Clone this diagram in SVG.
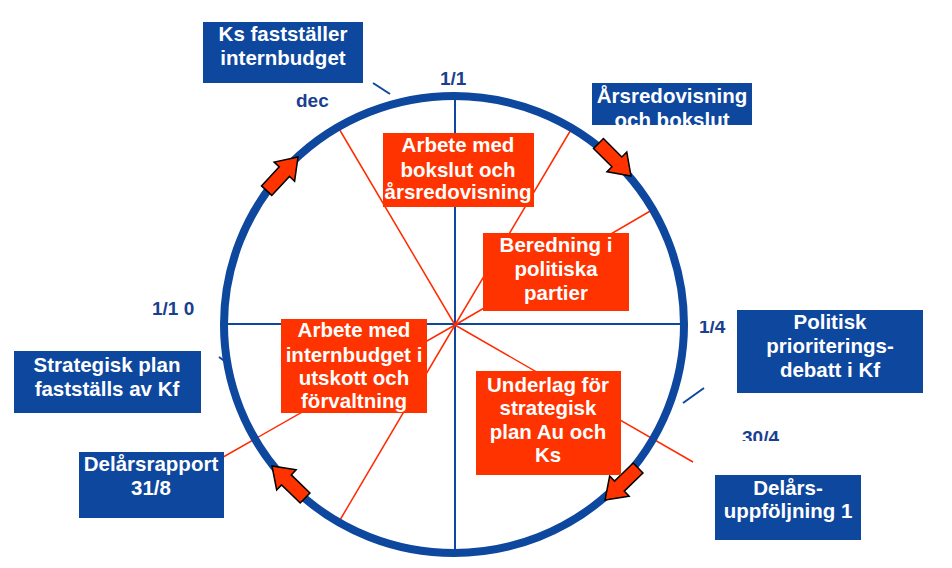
<svg xmlns="http://www.w3.org/2000/svg" width="952" height="568" viewBox="0 0 952 568">
<style>
.bb{fill:#0e479e}
.rb{fill:#ff3300}
.bt{font-family:"Liberation Sans",Arial,sans-serif;font-weight:bold;font-size:20.5px;fill:#ffffff;text-anchor:middle}
.lb{font-family:"Liberation Sans",Arial,sans-serif;font-weight:bold;font-size:19px;fill:#1b3f90}
.rl{stroke:#ff2a00;stroke-width:1.5;fill:none}
.ax{stroke:#0e479e;stroke-width:2;fill:none}
.tk{stroke:#0e479e;stroke-width:2;fill:none}
.ar{fill:#ff3300;stroke:#000;stroke-width:1.5;stroke-linejoin:miter}
</style>
<defs>
<path id="arr" d="M0,0 L-20,-14 L-20,-7 L-46,-7 L-46,7 L-20,7 L-20,14 Z"/>
<clipPath id="c14"><rect x="690" y="321" width="50" height="30"/></clipPath>
<clipPath id="c304"><rect x="735" y="415" width="60" height="26"/></clipPath>
</defs>
<rect width="952" height="568" fill="#ffffff"/>
<g id="connectors">
<line class="ax" x1="455" y1="96" x2="455" y2="553"/>
<line class="ax" x1="224" y1="324" x2="684" y2="324"/>
<line class="rl" x1="455" y1="325" x2="338" y2="127"/>
<line class="rl" x1="455" y1="325" x2="572" y2="128"/>
<line class="rl" x1="455" y1="325" x2="652" y2="210"/>
<line class="rl" x1="455" y1="325" x2="693" y2="462"/>
<line class="rl" x1="455" y1="325" x2="340" y2="520"/>
<line class="rl" x1="455" y1="325" x2="218" y2="460"/>
<line class="tk" x1="373" y1="83" x2="390" y2="94"/>
<line class="tk" x1="219" y1="357" x2="230" y2="365"/>
<line class="tk" x1="683" y1="403" x2="704" y2="388"/>
</g>
<g id="ring">
<ellipse cx="454" cy="324.5" rx="230" ry="228.5" fill="none" stroke="#0e479e" stroke-width="8"/>
</g>
<g id="arrows">
<use href="#arr" class="ar" transform="translate(298,157) rotate(-47)"/>
<use href="#arr" class="ar" transform="translate(631,176) rotate(45)"/>
<use href="#arr" class="ar" transform="translate(605,500) rotate(136)"/>
<use href="#arr" class="ar" transform="translate(272,466) rotate(-136)"/>
</g>
<g id="labels">
<text class="lb" x="296" y="107">dec</text>
<text class="lb" x="440" y="85">1/1</text>
<text class="lb" x="152" y="315">1/1 0</text>
<text class="lb" x="699" y="333" clip-path="url(#c14)">1/4</text>
<text class="lb" x="742" y="444" clip-path="url(#c304)">30/4</text>
</g>
<g id="n-ks">
<rect class="bb" x="203" y="22" width="160" height="61"/>
<text class="bt" x="283" y="41">Ks fastställer</text>
<text class="bt" x="283" y="65">internbudget</text>
</g>
<g id="n-ars">
<rect class="bb" x="592" y="83" width="160" height="42"/>
<text class="bt" x="672" y="103">Årsredovisning</text>
<text class="bt" x="672" y="127">och bokslut</text>
</g>
<g id="n-politisk">
<rect class="bb" x="737" y="310" width="186" height="83"/>
<text class="bt" x="830" y="329">Politisk</text>
<text class="bt" x="830" y="353">prioriterings-</text>
<text class="bt" x="830" y="377">debatt i Kf</text>
</g>
<g id="n-strategisk">
<rect class="bb" x="14" y="351" width="187" height="62"/>
<text class="bt" x="107" y="372">Strategisk plan</text>
<text class="bt" x="107" y="396">fastställs av Kf</text>
</g>
<g id="n-delarsrapport">
<rect class="bb" x="79" y="452" width="145" height="66"/>
<text class="bt" x="151" y="471">Delårsrapport</text>
<text class="bt" x="151" y="495">31/8</text>
</g>
<g id="n-delarsuppfoljning">
<rect class="bb" x="715" y="475" width="146" height="65"/>
<text class="bt" x="788" y="495">Delårs-</text>
<text class="bt" x="788" y="518">uppföljning 1</text>
</g>
<g id="n-bokslut">
<rect class="rb" x="383" y="133" width="151" height="74"/>
<text class="bt" x="458" y="152">Arbete med</text>
<text class="bt" x="458" y="177">bokslut och</text>
<text class="bt" x="458" y="199">årsredovisning</text>
</g>
<g id="n-beredning">
<rect class="rb" x="483" y="233" width="146" height="78"/>
<text class="bt" x="556" y="252">Beredning i</text>
<text class="bt" x="556" y="276">politiska</text>
<text class="bt" x="556" y="300">partier</text>
</g>
<g id="n-internbudget">
<rect class="rb" x="281" y="319" width="146" height="94"/>
<text class="bt" x="354" y="337">Arbete med</text>
<text class="bt" x="354" y="362">internbudget i</text>
<text class="bt" x="354" y="385">utskott och</text>
<text class="bt" x="354" y="408">förvaltning</text>
</g>
<g id="n-underlag">
<rect class="rb" x="476" y="371" width="145" height="104"/>
<text class="bt" x="548" y="392">Underlag för</text>
<text class="bt" x="548" y="415">strategisk</text>
<text class="bt" x="548" y="439">plan Au och</text>
<text class="bt" x="548" y="462">Ks</text>
</g>
</svg>
